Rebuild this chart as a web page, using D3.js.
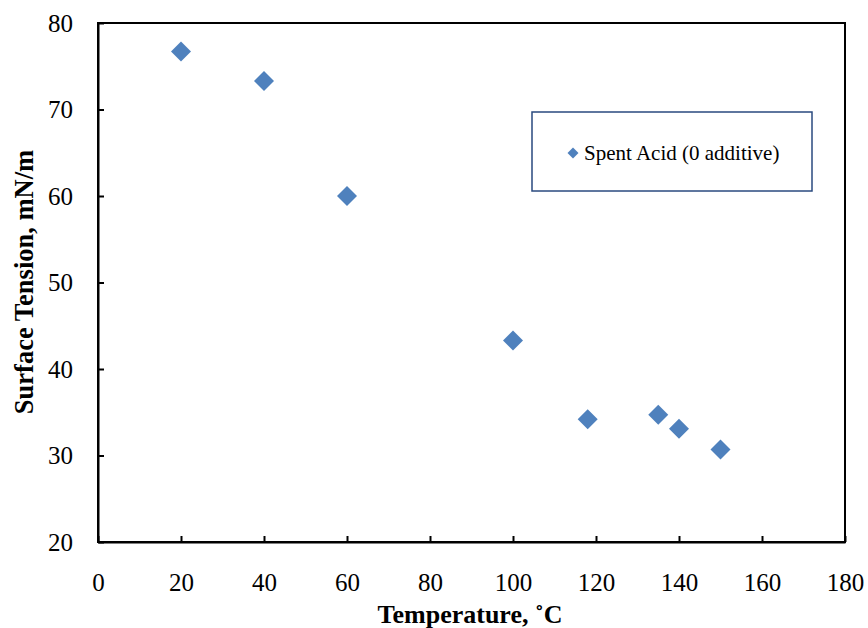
<!doctype html>
<html>
  <head>
    <script src="https://cdn.jsdelivr.net/npm/d3@7"></script>
    <style>
      body { margin: 0; background: #fff; }
      text { font-family: "Liberation Serif", "Times New Roman", serif; fill: #000; }
    </style>
  </head>
  <body>
    <svg id="chart" width="868" height="628"></svg>
    <script>
      // data
      var temperature = [20, 40, 60, 100, 118, 135, 140, 150];
      var tension = [76.7, 73.3, 60.0, 43.3, 34.2, 34.7, 33.1, 30.7];
      var seriesName = "Spent Acid (0 additive)";
      var xTicks = [0, 20, 40, 60, 80, 100, 120, 140, 160, 180];
      var yTicks = [20, 30, 40, 50, 60, 70, 80];

      var svg = d3.select("#chart");
      var margin = {left: 98, right: 23, top: 23, bottom: 86};
      var width = 868 - margin.left - margin.right,
          height = 628 - margin.top - margin.bottom;

      var x = d3.scaleLinear().domain([0, 180]).range([0, width]);
      var y = d3.scaleLinear().domain([20, 80]).range([height, 0]);

      var g = svg.append("g").attr("transform", "translate(" + margin.left + "," + margin.top + ")");

      // frame
      g.append("rect")
        .attr("width", width).attr("height", height)
        .attr("fill", "none").attr("stroke", "#000").attr("stroke-width", 2);

      // axes, ticks pointing inward
      var xAxis = g.append("g")
        .attr("transform", "translate(0," + height + ")")
        .call(d3.axisBottom(x).tickValues(xTicks).tickSizeInner(-6).tickSizeOuter(0).tickPadding(31));
      var yAxis = g.append("g")
        .call(d3.axisLeft(y).tickValues(yTicks).tickSizeInner(-6).tickSizeOuter(0).tickPadding(25));
      [xAxis, yAxis].forEach(function(a) {
        a.select(".domain").attr("stroke", "#000").attr("stroke-width", 2);
        a.selectAll(".tick line").attr("stroke", "#000").attr("stroke-width", 2);
        a.selectAll(".tick text").style("font-size", "25px").attr("fill", "#000");
      });

      // axis titles
      svg.append("text")
        .attr("x", 470).attr("y", 623)
        .attr("text-anchor", "middle")
        .style("font-size", "26px").style("font-weight", "bold")
        .text("Temperature, \u02daC");
      svg.append("text")
        .attr("transform", "translate(33,282) rotate(-90)")
        .attr("text-anchor", "middle")
        .style("font-size", "26.5px").style("font-weight", "bold")
        .text("Surface Tension, mN/m");

      // points
      var diamond = d3.symbol().type(d3.symbolSquare).size(200);
      g.selectAll("path.pt")
        .data(temperature.map(function(t, i) { return {t: t, v: tension[i]}; }))
        .enter()
        .append("path")
          .attr("class", "pt")
          .attr("d", diamond)
          .attr("transform", function(d) { return "translate(" + x(d.t) + "," + y(d.v) + ") rotate(45)"; })
          .attr("fill", "#4F81BD");

      // legend
      var lg = svg.append("g").attr("transform", "translate(532,112)");
      lg.append("rect")
        .attr("width", 280).attr("height", 79)
        .attr("fill", "#fff").attr("stroke", "#2A4A7F").attr("stroke-width", 1.5);
      lg.append("path")
        .attr("d", d3.symbol().type(d3.symbolSquare).size(60))
        .attr("transform", "translate(41,41) rotate(45)")
        .attr("fill", "#4F81BD");
      lg.append("text")
        .attr("x", 52).attr("y", 48)
        .style("font-size", "21px")
        .text(seriesName);
    </script>
  </body>
</html>
